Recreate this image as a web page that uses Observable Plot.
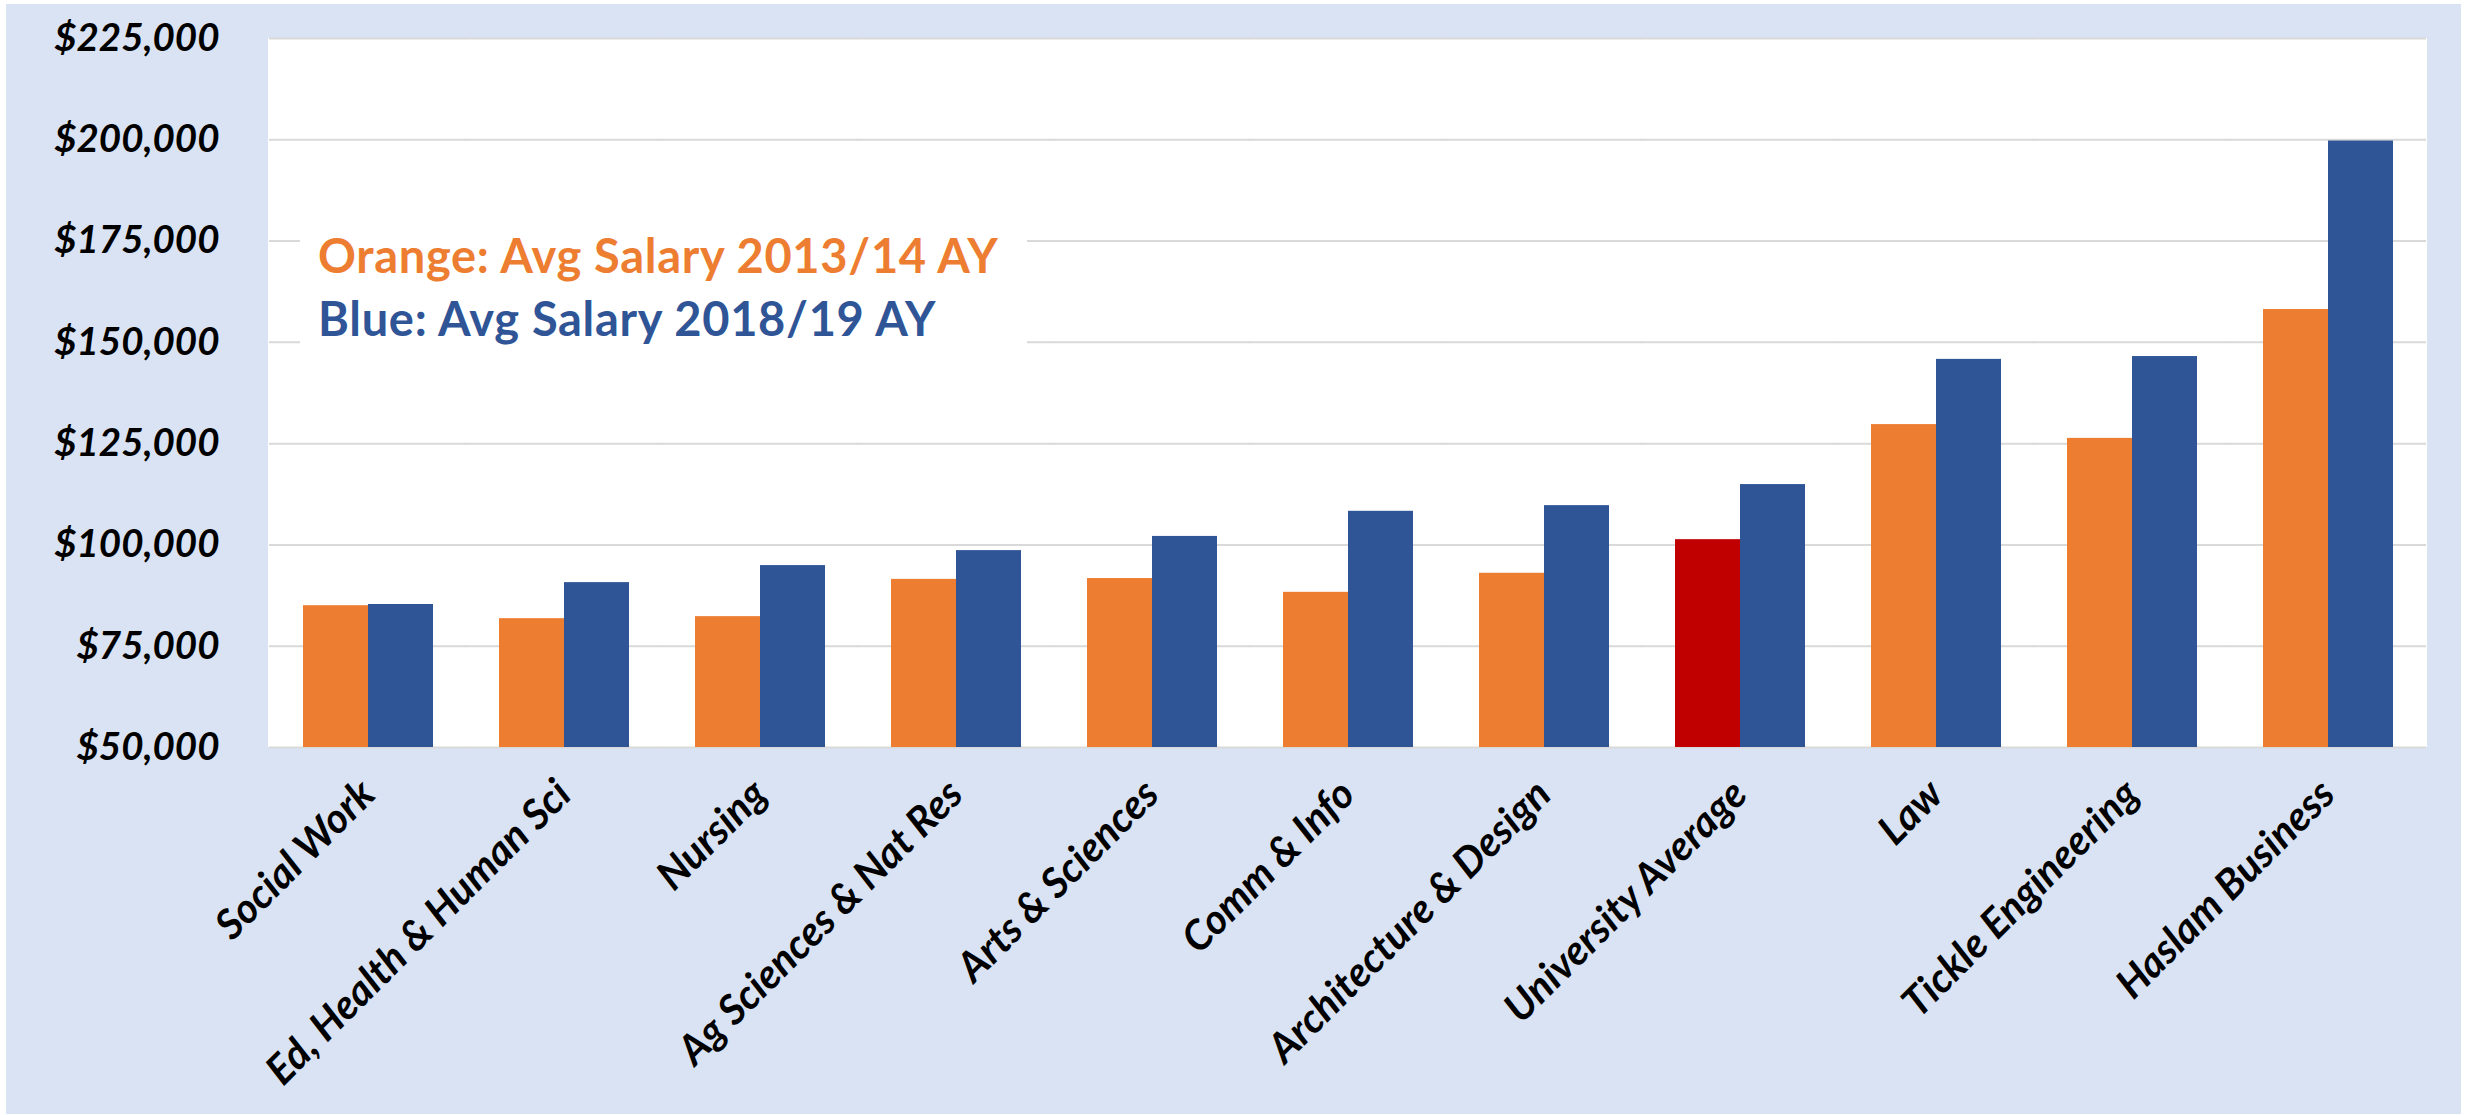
<!DOCTYPE html>
<html>
<head>
<meta charset="utf-8">
<script src="https://cdn.jsdelivr.net/npm/d3@7"></script>
<script src="https://cdn.jsdelivr.net/npm/@observablehq/plot@0.6"></script>
<style>
  html, body { margin: 0; padding: 0; background: #ffffff; }
  #wrap { position: relative; width: 2468px; height: 1115px; overflow: hidden; font-family: Lato, "Open Sans", sans-serif; }
  #bg { position: absolute; left: 6px; top: 4px; width: 2455px; height: 1110px; background: #DAE3F3; }
  #plotbg { position: absolute; left: 268px; top: 38px; width: 2159px; height: 709px; background: #ffffff; }
  #chart { position: absolute; left: 0; top: 0; }
  #legend { position: absolute; left: 300px; top: 200px; width: 727px; height: 190px; background: #ffffff; }
  #legend div { position: absolute; left: 18px; font-size: 47px; letter-spacing: 0.7px; font-weight: bold; line-height: 63px; white-space: nowrap; }
</style>
</head>
<body>
<div id="wrap">
  <div id="bg"></div>
  <div id="plotbg"></div>
  <div id="chart"></div>
  <div id="legend">
    <div id="l1" style="top:24px;color:#ED7D31">Orange: Avg Salary 2013/14 AY</div>
    <div id="l2" style="top:87px;color:#2F5597">Blue: Avg Salary 2018/19 AY</div>
  </div>
</div>
<script>
const colleges = ["Social Work", "Ed, Health & Human Sci", "Nursing", "Ag Sciences & Nat Res", "Arts & Sciences", "Comm & Info", "Architecture & Design", "University Average", "Law", "Tickle Engineering", "Haslam Business"];
const years = ["2013/14", "2018/19"];
const salary2013 = [85000, 81800, 82300, 91500, 91700, 88300, 93000, 101300, 129700, 126300, 158100];
const salary2018 = [85300, 90700, 94900, 98600, 102100, 108300, 109700, 114900, 145800, 146500, 199700];
const yTicks = [50000, 75000, 100000, 125000, 150000, 175000, 200000, 225000];
const highlight = "University Average";

const rows = [];
colleges.forEach((c, i) => {
  rows.push({college: c, year: years[0], value: salary2013[i]});
  rows.push({college: c, year: years[1], value: salary2018[i]});
});

const ORANGE = "#ED7D31", BLUE = "#2F5597", RED = "#C00000";

const chart = Plot.plot({
  width: 2468,
  height: 1115,
  marginLeft: 268,
  marginRight: 41,
  marginTop: 38,
  marginBottom: 368,
  style: {background: "transparent", fontFamily: "Lato, 'Open Sans', sans-serif", color: "#000"},
  fx: {domain: colleges, paddingInner: 1/3, paddingOuter: 1/6, label: null},
  x: {domain: years, padding: 0, axis: null},
  y: {domain: [yTicks[0], yTicks[yTicks.length - 1]], label: null},
  marks: [
    Plot.ruleY(yTicks, {stroke: "#d9d9d9", strokeWidth: 2, insetLeft: -33, insetRight: -33}),
    Plot.barY(rows, {
      fx: "college", x: "year", y1: yTicks[0], y2: "value",
      fill: d => d.year === years[0] ? (d.college === highlight ? RED : ORANGE) : BLUE
    }),
    Plot.axisY({ticks: yTicks, tickSize: 0, tickPadding: 83, tickFormat: d3.format("$,"), label: null,
      fontSize: 38.5, fontWeight: "bold", fontStyle: "italic"}),
    Plot.axisFx({anchor: "bottom", tickRotate: -45, tickSize: 0, tickPadding: 40, label: null,
      fontSize: 41, fontWeight: "bold", fontStyle: "italic"})
  ]
});
document.getElementById("chart").appendChild(chart);
</script>
</body>
</html>
